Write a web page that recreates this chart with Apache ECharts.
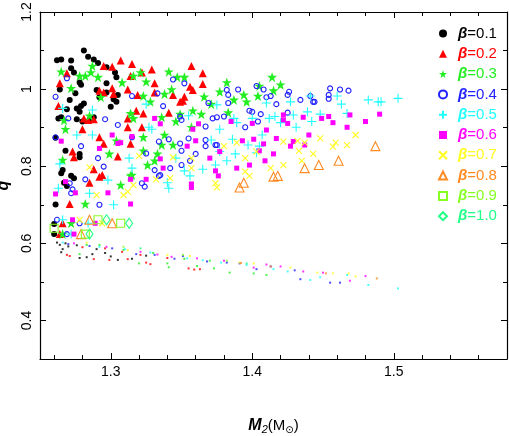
<!DOCTYPE html>
<html>
<head>
<meta charset="utf-8">
<script src="https://cdn.jsdelivr.net/npm/echarts@6/dist/echarts.min.js"></script>
<style>
  html, body { margin: 0; padding: 0; background: #fff; }
  #chart { width: 509px; height: 436px; }
</style>
</head>
<body>
<div id="chart"></div>
<script>
// tick positions
const xMajor = [1.3, 1.4, 1.5];
const xMinor = [1.26, 1.28, 1.32, 1.34, 1.36, 1.38, 1.42, 1.44, 1.46, 1.48, 1.52, 1.54, 1.56];
const yMajor = [0.4, 0.6, 0.8, 1.0, 1.2];
const yMinor = [0.5, 0.7, 0.9, 1.1];

const betas = ['0.1', '0.2', '0.3', '0.4', '0.5', '0.6', '0.7', '0.8', '0.9', '1.0'];

// [M2, q]
const b01 = [[1.281,1.100],[1.284,1.084],[1.262,1.075],[1.265,1.077],[1.272,1.074],[1.288,1.077],[1.291,1.068],[1.297,1.057],[1.272,1.054],[1.274,1.043],[1.303,1.043],[1.304,1.031],[1.278,1.017],[1.279,1.011],[1.297,1.015],[1.264,0.999],[1.275,0.989],[1.290,0.998],[1.297,0.991],[1.305,0.985],[1.302,0.974],[1.304,0.967],[1.292,0.979],[1.281,0.963],[1.279,0.956],[1.276,0.950],[1.300,0.954],[1.278,0.941],[1.269,0.948],[1.263,0.924],[1.265,0.927],[1.276,0.922],[1.288,0.927],[1.285,0.920],[1.261,0.874],[1.280,0.916],[1.271,0.972],[1.268,0.840],[1.278,0.832],[1.278,0.823],[1.266,0.790],[1.265,0.782],[1.272,0.775],[1.274,0.769],[1.267,0.757],[1.269,0.749],[1.261,0.701],[1.260,0.650],[1.260,0.624]];
const b02 = [[1.307,1.074],[1.295,1.060],[1.301,1.058],[1.315,1.065],[1.269,1.041],[1.314,1.034],[1.264,1.015],[1.292,0.996],[1.295,0.991],[1.301,1.002],[1.302,0.987],[1.312,0.999],[1.263,0.956],[1.281,0.924],[1.284,0.920],[1.288,0.922],[1.312,0.924],[1.280,0.896],[1.292,0.875],[1.312,0.901],[1.314,0.858],[1.295,0.858],[1.329,1.051],[1.357,1.060],[1.365,1.041],[1.322,1.043],[1.331,1.015],[1.331,0.991],[1.356,1.006],[1.358,0.998],[1.365,1.013],[1.344,0.985],[1.352,0.980],[1.349,0.967],[1.351,0.970],[1.319,0.985],[1.318,0.944],[1.323,0.937],[1.341,0.939],[1.322,0.901],[1.273,0.838],[1.274,0.823],[1.305,0.825],[1.288,0.792],[1.294,0.777],[1.292,0.773],[1.285,0.757],[1.271,0.702],[1.266,0.652],[1.264,0.624]];
const b03 = [[1.287,1.060],[1.265,1.045],[1.272,1.002],[1.278,1.034],[1.282,1.034],[1.286,1.043],[1.291,1.031],[1.308,1.017],[1.293,0.979],[1.314,0.937],[1.267,0.919],[1.268,0.896],[1.285,0.931],[1.304,0.866],[1.316,1.034],[1.321,1.043],[1.325,1.019],[1.341,1.045],[1.347,1.031],[1.352,1.031],[1.377,0.993],[1.382,1.017],[1.366,0.980],[1.371,0.961],[1.387,0.972],[1.394,0.985],[1.396,0.967],[1.338,0.987],[1.343,0.999],[1.323,0.982],[1.328,0.967],[1.358,0.944],[1.364,0.935],[1.349,0.935],[1.336,0.927],[1.346,0.916],[1.316,0.924],[1.338,0.881],[1.323,0.875],[1.344,0.855],[1.357,0.901],[1.383,0.939],[1.414,1.031],[1.420,1.011],[1.405,1.008],[1.415,0.996],[1.404,0.982],[1.299,0.832],[1.282,0.702],[1.314,0.775],[1.307,0.751],[1.272,0.652],[1.266,0.624],[1.323,0.840],[1.333,0.832],[1.331,0.814],[1.326,0.803],[1.336,0.855],[1.315,0.777],[1.266,0.816]];
const b04 = [[1.269,1.028],[1.261,0.980],[1.315,0.982],[1.270,0.924],[1.296,0.922],[1.305,0.907],[1.261,0.875],[1.279,0.852],[1.291,0.821],[1.295,0.799],[1.282,0.766],[1.271,0.756],[1.273,0.740],[1.272,0.730],[1.292,0.700],[1.262,0.661],[1.278,0.652],[1.269,0.624],[1.344,1.025],[1.352,1.015],[1.333,0.989],[1.337,0.956],[1.382,0.998],[1.383,0.985],[1.390,0.999],[1.383,0.964],[1.369,0.964],[1.349,0.929],[1.350,0.920],[1.372,0.924],[1.375,0.927],[1.380,0.929],[1.398,0.944],[1.395,0.901],[1.367,0.903],[1.355,0.872],[1.334,0.864],[1.341,0.870],[1.374,0.855],[1.367,0.868],[1.315,0.875],[1.349,0.859],[1.367,0.852],[1.375,0.855],[1.350,0.840],[1.360,0.832],[1.356,0.814],[1.350,0.803],[1.342,0.795],[1.331,0.790],[1.334,0.775],[1.335,0.777],[1.322,0.756],[1.324,0.747],[1.325,0.833],[1.403,1.008],[1.408,0.999],[1.413,0.982],[1.410,0.979],[1.426,0.993],[1.425,0.985],[1.434,0.972],[1.441,0.982],[1.443,0.967],[1.444,0.967],[1.455,1.002],[1.462,0.999],[1.468,0.996],[1.454,0.985],[1.454,0.975],[1.417,0.961],[1.400,0.941],[1.406,0.935],[1.425,0.939],[1.404,0.916]];
const b05 = [[1.266,0.950],[1.287,0.946],[1.287,0.881],[1.276,0.881],[1.264,0.806],[1.263,0.743],[1.285,0.730],[1.298,0.764],[1.313,0.821],[1.302,0.700],[1.266,0.661],[1.284,0.652],[1.272,0.624],[1.325,0.961],[1.327,0.901],[1.329,0.896],[1.355,0.931],[1.375,0.959],[1.371,0.868],[1.377,0.896],[1.387,0.924],[1.389,0.913],[1.386,0.870],[1.400,0.924],[1.315,0.795],[1.346,0.821],[1.352,0.788],[1.356,0.775],[1.340,0.757],[1.341,0.743],[1.365,0.792],[1.374,0.803],[1.382,0.814],[1.388,0.832],[1.397,0.855],[1.403,0.835],[1.377,0.838],[1.410,0.964],[1.427,0.967],[1.441,0.982],[1.463,0.961],[1.460,0.982],[1.482,0.972],[1.489,0.967],[1.491,0.967],[1.503,0.976],[1.412,0.924],[1.416,0.929],[1.429,0.933],[1.439,0.941],[1.448,0.935],[1.467,0.937],[1.420,0.913],[1.442,0.916],[1.431,0.901],[1.407,0.881],[1.405,0.852]];
const b06 = [[1.265,0.865],[1.268,0.760],[1.261,0.728],[1.275,0.731],[1.298,0.731],[1.314,0.766],[1.305,0.859],[1.314,0.702],[1.273,0.661],[1.289,0.652],[1.274,0.624],[1.301,0.881],[1.292,0.846],[1.307,0.861],[1.331,0.924],[1.335,0.910],[1.354,0.852],[1.360,0.866],[1.362,0.910],[1.358,0.896],[1.385,0.916],[1.393,0.866],[1.401,0.870],[1.315,0.877],[1.325,0.766],[1.335,0.819],[1.337,0.795],[1.370,0.821],[1.374,0.788],[1.376,0.775],[1.389,0.795],[1.398,0.803],[1.357,0.754],[1.357,0.745],[1.377,0.838],[1.400,0.911],[1.422,0.933],[1.422,0.920],[1.425,0.911],[1.436,0.927],[1.449,0.924],[1.454,0.929],[1.457,0.913],[1.469,0.933],[1.480,0.916],[1.490,0.935],[1.410,0.894],[1.467,0.901],[1.440,0.881],[1.417,0.872],[1.408,0.858],[1.429,0.864],[1.437,0.855],[1.427,0.852],[1.405,0.840],[1.415,0.832],[1.409,0.814]];
const b07 = [[1.285,0.797],[1.312,0.734],[1.290,0.725],[1.309,0.725],[1.278,0.661],[1.294,0.652],[1.316,0.751],[1.320,0.827],[1.332,0.766],[1.342,0.769],[1.344,0.823],[1.357,0.795],[1.357,0.821],[1.380,0.852],[1.389,0.861],[1.395,0.821],[1.395,0.786],[1.374,0.756],[1.375,0.745],[1.403,0.838],[1.422,0.864],[1.432,0.866],[1.437,0.861],[1.448,0.872],[1.459,0.861],[1.457,0.851],[1.467,0.855],[1.473,0.881],[1.433,0.840],[1.443,0.832],[1.435,0.814],[1.422,0.803],[1.413,0.795],[1.398,0.775]];
const b08 = [[1.487,0.852],[1.461,0.814],[1.447,0.803],[1.437,0.795],[1.418,0.775],[1.415,0.773],[1.394,0.757],[1.391,0.745],[1.285,0.661],[1.301,0.652],[1.279,0.624]];
const b09 = [[1.291,0.661],[1.307,0.652],[1.260,0.639],[1.282,0.624]];
const b10 = [[1.297,0.661],[1.313,0.652],[1.285,0.624]];

// the tiny dots in the lower band
const d01 = [[1.262,0.602],[1.264,0.596],[1.266,0.585],[1.265,0.577],[1.270,0.592],[1.278,0.562],[1.283,0.564],[1.290,0.585],[1.305,0.557],[1.296,0.575],[1.315,0.560],[1.325,0.568],[1.268,0.600],[1.276,0.595],[1.287,0.572],[1.300,0.566]];
const d02 = [[1.269,0.570],[1.271,0.567],[1.288,0.559],[1.299,0.557],[1.312,0.559],[1.325,0.550],[1.328,0.546],[1.355,0.535],[1.359,0.532],[1.363,0.533],[1.296,0.587],[1.321,0.570],[1.280,0.590],[1.340,0.562],[1.308,0.578]];
const d03 = [[1.278,0.572],[1.320,0.548],[1.340,0.548],[1.341,0.538],[1.361,0.541],[1.373,0.535],[1.384,0.524],[1.401,0.522],[1.410,0.518],[1.309,0.583],[1.292,0.596],[1.283,0.596],[1.330,0.575],[1.352,0.560],[1.370,0.555]];
const d04 = [[1.270,0.598],[1.285,0.593],[1.301,0.587],[1.318,0.572],[1.331,0.570],[1.351,0.567],[1.368,0.553],[1.382,0.550],[1.391,0.548],[1.403,0.533],[1.413,0.540],[1.434,0.507],[1.455,0.498],[1.462,0.498],[1.430,0.530],[1.345,0.560]];
const d05 = [[1.266,0.602],[1.292,0.591],[1.328,0.576],[1.354,0.561],[1.378,0.550],[1.396,0.544],[1.415,0.533],[1.425,0.527],[1.441,0.505],[1.448,0.512],[1.467,0.518],[1.482,0.492],[1.503,0.483],[1.310,0.585],[1.365,0.556]];
const d06 = [[1.274,0.600],[1.297,0.591],[1.321,0.578],[1.343,0.565],[1.361,0.561],[1.380,0.555],[1.401,0.537],[1.420,0.540],[1.436,0.527],[1.450,0.524],[1.469,0.503],[1.480,0.515],[1.333,0.571],[1.410,0.545]];
const d07 = [[1.283,0.602],[1.340,0.570],[1.356,0.567],[1.391,0.550],[1.401,0.548],[1.427,0.537],[1.446,0.524],[1.457,0.522],[1.468,0.522],[1.473,0.514],[1.312,0.582]];
const d08 = [[1.392,0.549],[1.413,0.540],[1.452,0.522],[1.488,0.509]];
const d09 = [[1.309,0.591],[1.351,0.570],[1.382,0.555]];
const d10 = [[1.321,0.587],[1.396,0.548]];

const colors = ['#000000', '#ff0000', '#22ee22', '#2222ff', '#22ffff', '#ff00ff', '#ffff22', '#ff8a22', '#88ff22', '#22ff88'];

const STAR = 'path://M5,0L6.2,3.5L9.8,3.5L6.9,5.7L8,9.5L5,7.2L2,9.5L3.1,5.7L0.2,3.5L3.8,3.5Z';
const PLUS = 'path://M0,5L10,5M5,0L5,10';
const CROSS = 'path://M0,0L10,10M10,0L0,10';
const NONE = 'rgba(0,0,0,0)';

const marks = [
  { symbol: 'circle', size: 6, open: false },
  { symbol: 'triangle', size: 8, open: false },
  { symbol: STAR, size: 10, open: false },
  { symbol: 'circle', size: 5, open: true },
  { symbol: PLUS, size: 9, open: true },
  { symbol: 'rect', size: 5, open: false },
  { symbol: CROSS, size: 6, open: true },
  { symbol: 'triangle', size: 9, open: true },
  { symbol: 'rect', size: 8, open: true },
  { symbol: 'diamond', size: [7, 10], open: true }
];

const bigData = [b01, b02, b03, b04, b05, b06, b07, b08, b09, b10];
const dotData = [d01, d02, d03, d04, d05, d06, d07, d08, d09, d10];

const chart = echarts.init(document.getElementById('chart'), null, { renderer: 'canvas' });

const FONT = 'Liberation Sans';
const LINE = { color: '#000', width: 1.2 };

function xAx(pos, ticks, len, showLine, withLabel) {
  return {
    type: 'value', position: pos, min: 1.25, max: 1.58,
    axisLine: { show: showLine, onZero: false, lineStyle: LINE },
    axisTick: { show: true, inside: true, length: len, customValues: ticks, lineStyle: { color: '#000', width: 1 } },
    axisLabel: withLabel
      ? { show: true, customValues: ticks, margin: 6, color: '#000', fontSize: 14, fontFamily: FONT, formatter: v => v.toFixed(1) }
      : { show: false },
    splitLine: { show: false }
  };
}

function yAx(pos, ticks, len, showLine, withLabel) {
  return {
    type: 'value', position: pos, min: 0.3, max: 1.2,
    axisLine: { show: showLine, onZero: false, lineStyle: LINE },
    axisTick: { show: true, inside: true, length: len, customValues: ticks, lineStyle: { color: '#000', width: 1 } },
    axisLabel: withLabel
      ? { show: true, customValues: ticks, rotate: 90, margin: 6, color: '#000', fontSize: 14, fontFamily: FONT,
          formatter: v => (Math.abs(v - 1) < 1e-9 ? '1' : v.toFixed(1)) }
      : { show: false },
    splitLine: { show: false }
  };
}

const xMain = xAx('bottom', xMajor, 6, true, true);
xMain.name = '{m|M}{s|2}{p|(M}{o|⊙}{p|)}';
xMain.nameLocation = 'middle';
xMain.nameGap = 67;
xMain.nameTextStyle = {
  color: '#000', fontFamily: FONT, verticalAlign: 'middle',
  rich: {
    m: { fontSize: 16, fontStyle: 'italic', fontWeight: 'bold', lineHeight: 18, fontFamily: FONT },
    s: { fontSize: 11, fontStyle: 'italic', verticalAlign: 'bottom', lineHeight: 10, fontFamily: FONT },
    p: { fontSize: 15, lineHeight: 18, fontFamily: FONT },
    o: { fontSize: 10, verticalAlign: 'bottom', lineHeight: 10, fontFamily: 'DejaVu Sans' }
  }
};

const yMain = yAx('left', yMajor, 6, true, true);
yMain.name = 'q';
yMain.nameLocation = 'middle';
yMain.nameRotate = 90;
yMain.nameGap = 28;
yMain.nameTextStyle = { color: '#000', fontSize: 16, fontStyle: 'italic', fontWeight: 'bold', fontFamily: FONT };

const series = [];
betas.forEach((b, i) => {
  const m = marks[i];
  series.push({
    name: 'β=' + b,
    type: 'scatter',
    data: bigData[i],
    symbol: m.symbol,
    symbolSize: m.size,
    itemStyle: m.open
      ? { color: NONE, borderColor: colors[i], borderWidth: 1.1, opacity: 1 }
      : { color: colors[i], opacity: 1 },
    emphasis: { disabled: true },
    z: 3
  });
});
betas.forEach((b, i) => {
  series.push({
    name: 'dots' + b,
    type: 'scatter',
    data: dotData[i],
    symbol: 'rect',
    symbolSize: 2,
    itemStyle: { color: colors[i], opacity: 0.8 },
    silent: true,
    z: 2
  });
});

chart.setOption({
  animation: false,
  backgroundColor: '#fff',
  grid: { left: 40, right: 2, top: 12, bottom: 77, containLabel: false, outerBoundsMode: 'none' },
  xAxis: [
    xMain,
    xAx('bottom', xMinor, 4, false, false),
    xAx('top', xMajor, 6, true, false),
    xAx('top', xMinor, 4, false, false)
  ],
  yAxis: [
    yMain,
    yAx('left', yMinor, 4, false, false),
    yAx('right', yMajor, 6, true, false),
    yAx('right', yMinor, 4, false, false)
  ],
  legend: {
    orient: 'vertical',
    left: 433,
    top: 21,
    itemWidth: 8,
    itemHeight: 8,
    itemGap: 5.3,
    selectedMode: false,
    data: betas.map((b, i) => ({ name: 'β=' + b, textStyle: { color: colors[i] } })),
    formatter: name => '{g|β}' + name.slice(1),
    textStyle: {
      fontSize: 15, fontFamily: FONT, lineHeight: 14,
      rich: { g: { fontSize: 15, fontStyle: 'italic', fontWeight: 'bold', fontFamily: FONT, lineHeight: 14, padding: [0, 0, 0, 6] } }
    }
  },
  series: series
});
</script>
</body>
</html>
